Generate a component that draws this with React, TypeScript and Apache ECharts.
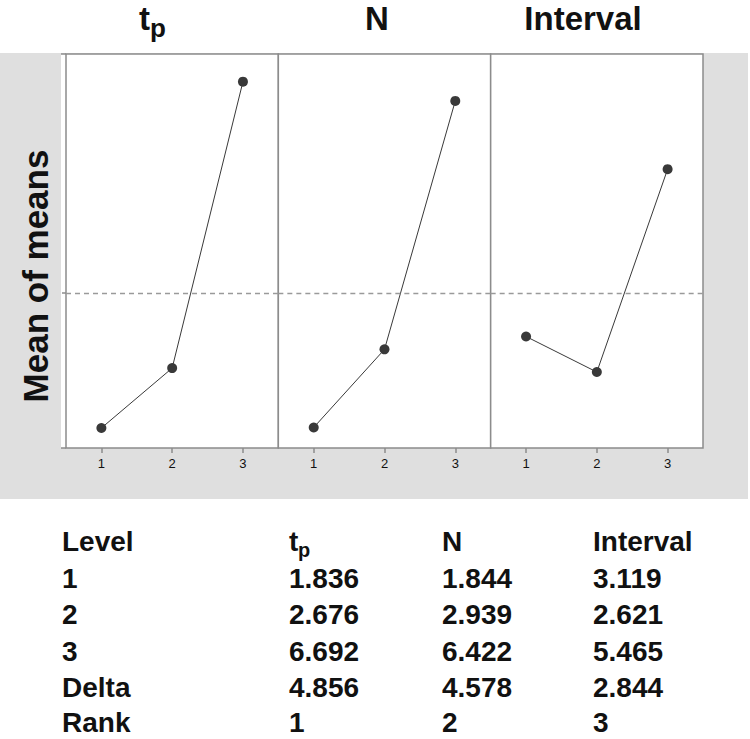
import React, { useEffect, useRef } from "react";
import * as echarts from "echarts";

const levels = ["1", "2", "3"];
const tpMeans = [1.836, 2.676, 6.692];
const nMeans = [1.844, 2.939, 6.422];
const intervalMeans = [3.119, 2.621, 5.465];
const factorTitles = ["t", "N", "Interval"];
const ranks = ["1", "2", "3"];
const yMin = 1.556;
const yMax = 7.08;

const FONT = "Liberation Sans, Arial, Helvetica, sans-serif";

export default function App() {
  const ref = useRef<HTMLDivElement>(null);
  useEffect(() => {
    if (!ref.current) return;
    const chart = echarts.init(ref.current, undefined, { renderer: "svg" });
    const allSeries = [tpMeans, nMeans, intervalMeans];
    const all = allSeries.flat();
    const grandMean = all.reduce((a, b) => a + b, 0) / all.length;
    const deltas = allSeries.map((s) => Math.max(...s) - Math.min(...s));

    const frameLeft = 66;
    const frameRight = 703;
    const frameTop = 54;
    const frameBottom = 448;
    const pw = (frameRight - frameLeft) / 3;

    const grids = [0, 1, 2].map((i) => ({
      left: frameLeft + i * pw,
      top: frameTop,
      width: pw,
      height: frameBottom - frameTop,
      show: true,
      backgroundColor: "#ffffff",
      borderColor: "#8c8c8c",
      borderWidth: 1.5,
    }));

    const xAxes = [0, 1, 2].map((i) => ({
      type: "category",
      gridIndex: i,
      data: levels,
      boundaryGap: true,
      axisLine: { show: false },
      axisTick: { show: true, alignWithLabel: true, length: 5, lineStyle: { color: "#8c8c8c", width: 1.5 } },
      axisLabel: { fontSize: 13, color: "#111", margin: 9, fontFamily: FONT },
      splitLine: { show: false },
    }));

    const yAxes = [0, 1, 2].map((i) => ({
      type: "value",
      gridIndex: i,
      min: yMin,
      max: yMax,
      axisLine: { show: false },
      axisTick: i === 0
        ? { show: true, customValues: [grandMean], length: 4, lineStyle: { color: "#8c8c8c", width: 1.5 } }
        : { show: false },
      axisLabel: { show: false },
      splitLine: { show: false },
    }));

    const series = allSeries.map((data, i) => ({
      type: "line",
      xAxisIndex: i,
      yAxisIndex: i,
      data,
      symbol: "circle",
      symbolSize: 10,
      itemStyle: { color: "#393939" },
      lineStyle: { color: "#393939", width: 1 },
      markLine: {
        silent: true,
        symbol: "none",
        label: { show: false },
        lineStyle: { color: "#9a9a9a", type: [5, 4], width: 1.3 },
        data: [{ yAxis: grandMean }],
      },
    }));

    const txt = (text: string, x: number, y: number, size: number, align = "left", extra: any = {}) => ({
      type: "text",
      x,
      y,
      style: {
        text,
        fontSize: size,
        fontWeight: "bold",
        fontFamily: FONT,
        fill: "#111",
        align,
        verticalAlign: "middle",
        ...extra,
      },
    });

    const graphics: any[] = [
      { type: "rect", z: -100, shape: { x: 0, y: 53, width: 748, height: 446 }, style: { fill: "#dfdfdf" } },
      { type: "rect", z: -90, shape: { x: 61, y: frameTop, width: frameRight - 61, height: frameBottom - frameTop }, style: { fill: "#ffffff" } },
      { type: "line", shape: { x1: 61, y1: frameTop, x2: frameLeft, y2: frameTop }, style: { stroke: "#8c8c8c", lineWidth: 1.5 } },
      { type: "line", shape: { x1: 61, y1: frameBottom, x2: frameLeft, y2: frameBottom }, style: { stroke: "#8c8c8c", lineWidth: 1.5 } },
      // panel titles
      txt(factorTitles[0], 139, 18, 33),
      txt("p", 150, 28, 26),
      txt(factorTitles[1], 377, 18, 33, "center"),
      txt(factorTitles[2], 583, 18, 33, "center"),
      // y-axis name
      {
        type: "text",
        x: 35,
        y: 276,
        rotation: Math.PI / 2,
        style: {
          text: "Mean of means",
          fontSize: 35,
          fontWeight: "bold",
          fontFamily: FONT,
          fill: "#111",
          align: "center",
          verticalAlign: "middle",
        },
      },
    ];

    // table
    const colX = [62, 289, 442, 593];
    const rowY = [541, 578, 614, 651, 687, 722];
    const tSize = 28;
    graphics.push(txt("Level", colX[0], rowY[0], tSize));
    graphics.push(txt("t", colX[1], rowY[0], tSize));
    graphics.push(txt("p", colX[1] + 9, rowY[0] + 9, 20));
    graphics.push(txt(factorTitles[1], colX[2], rowY[0], tSize));
    graphics.push(txt(factorTitles[2], colX[3], rowY[0], tSize));
    levels.forEach((lv, r) => {
      graphics.push(txt(lv, colX[0], rowY[r + 1], tSize));
      allSeries.forEach((s, c) => {
        graphics.push(txt(s[r].toFixed(3), colX[c + 1], rowY[r + 1], tSize));
      });
    });
    graphics.push(txt("Delta", colX[0], rowY[4], tSize));
    deltas.forEach((d, c) => graphics.push(txt(d.toFixed(3), colX[c + 1], rowY[4], tSize)));
    graphics.push(txt("Rank", colX[0], rowY[5], tSize));
    ranks.forEach((rk, c) => graphics.push(txt(rk, colX[c + 1], rowY[5], tSize)));

    chart.setOption({
      animation: false,
      backgroundColor: "#ffffff",
      grid: grids,
      xAxis: xAxes,
      yAxis: yAxes,
      series,
      graphic: { elements: graphics },
    });
    return () => chart.dispose();
  }, []);
  return (
    <div
      ref={ref}
      style={{ position: "fixed", left: 0, top: 0, width: 750, height: 739 }}
    />
  );
}
